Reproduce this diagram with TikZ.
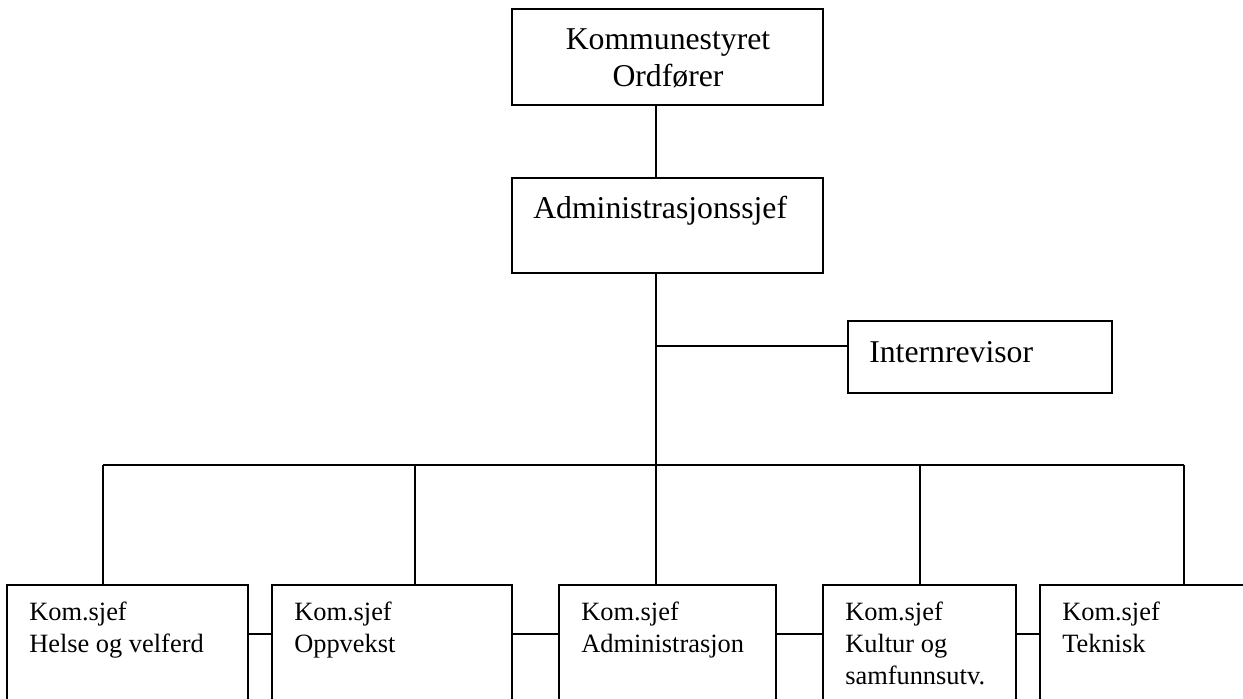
\documentclass[tikz,border=0pt]{standalone}
\usepackage{fontspec}
\setmainfont{Liberation Serif}
\begin{document}
\begin{tikzpicture}[x=0.75pt,y=-0.75pt,
  box/.style={draw, rectangle, inner sep=0pt, line width=1.3pt},
  big/.style={font=\fontsize{23.8}{27.75}\selectfont, inner sep=0pt},
  small/.style={font=\fontsize{19.8}{24}\selectfont, inner sep=0pt, anchor=base west},
  conn/.style={draw, line width=1.3pt}]
\useasboundingbox (0,0) rectangle (1243,699);
\clip (0,0) rectangle (1243,699);

% boxes
\node[box, minimum width=233.25pt, minimum height=72pt] (top) at (667.5,57) {};
\node[box, minimum width=233.25pt, minimum height=71.25pt] (admin) at (667.5,225.5) {};
\node[box, minimum width=198pt, minimum height=54pt] (intern) at (980,357) {};
\node[box, minimum width=180.75pt, minimum height=101.25pt] (b1) at (127.5,652.5) {};
\node[box, minimum width=180pt, minimum height=101.25pt] (b2) at (392,652.5) {};
\node[box, minimum width=162.75pt, minimum height=101.25pt] (b3) at (667.5,652.5) {};
\node[box, minimum width=144.75pt, minimum height=101.25pt] (b4) at (919.5,652.5) {};
\node[box, minimum width=165pt, minimum height=101.25pt] (b5) at (1150,652.5) {};

% texts
\node[big, anchor=base] (tl1) at (668,50) {Kommunestyret};
\node[big, anchor=base] (tl2) at (668,87) {Ordfører};
\node[big, anchor=base west] (al) at (533,218) {Administrasjonssjef};
\node[big, anchor=base west] (il) at (869,362) {Internrevisor};

\node[small] (t1a) at (29,620) {Kom.sjef};
\node[small] (t1b) at (29,652) {Helse og velferd};
\node[small] (t2a) at (294,620) {Kom.sjef};
\node[small] (t2b) at (294,652) {Oppvekst};
\node[small] (t3a) at (581,620) {Kom.sjef};
\node[small] (t3b) at (581,652) {Administrasjon};
\node[small] (t4a) at (845,620) {Kom.sjef};
\node[small] (t4b) at (845,652) {Kultur og};
\node[small] (t4c) at (845,684) {samfunnsutv.};
\node[small] (t5a) at (1062,620) {Kom.sjef};
\node[small] (t5b) at (1062,652) {Teknisk};

% connectors
\coordinate (sp) at (656,465);
\coordinate (ib) at (656,346);
\coordinate (d1) at (103,465);
\coordinate (d2) at (415,465);
\coordinate (d4) at (920,465);
\coordinate (d5) at (1184,465);
\coordinate (h) at (0,634);

\draw[conn] (top.south -| sp) -- (admin.north -| sp);
\draw[conn] (admin.south -| sp) -- (sp);
\draw[conn] (ib) -- (ib -| intern.west);
\draw[conn] (d1) -- (d5);
\draw[conn] (d1) -- (d1 |- b1.north);
\draw[conn] (d2) -- (d2 |- b2.north);
\draw[conn] (sp) -- (sp |- b3.north);
\draw[conn] (d4) -- (d4 |- b4.north);
\draw[conn] (d5) -- (d5 |- b5.north);
\draw[conn] (b1.east |- h) -- (b2.west |- h);
\draw[conn] (b2.east |- h) -- (b3.west |- h);
\draw[conn] (b3.east |- h) -- (b4.west |- h);
\draw[conn] (b4.east |- h) -- (b5.west |- h);
\end{tikzpicture}
\end{document}
